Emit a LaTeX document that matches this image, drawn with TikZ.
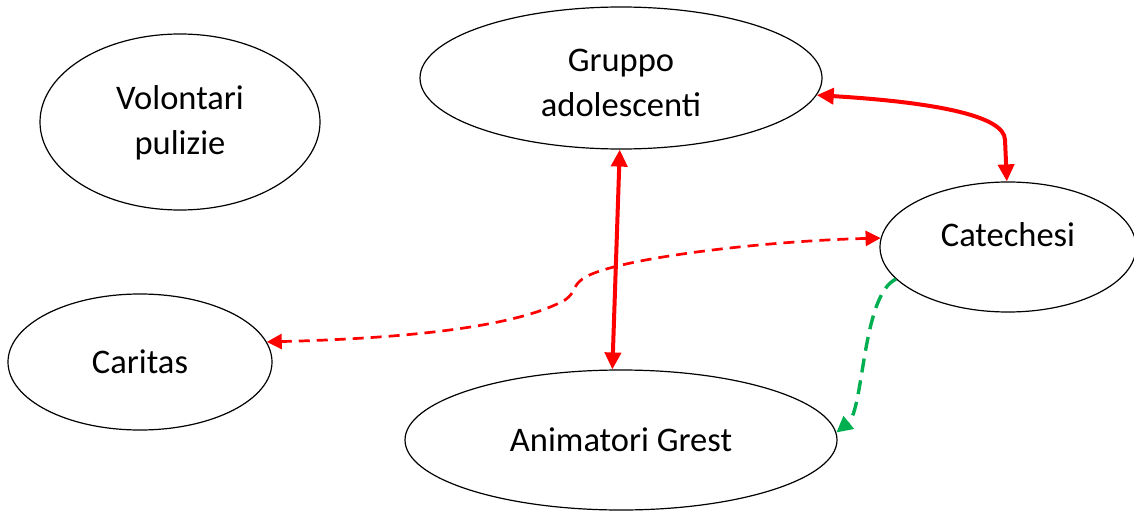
\documentclass[tikz,border=0pt]{standalone}
\usepackage{fontspec}
\setmainfont{Carlito}
\usetikzlibrary{shapes.geometric,arrows.meta}
\definecolor{arrred}{HTML}{FF0000}
\definecolor{arrgreen}{HTML}{00B050}
\begin{document}
\begin{tikzpicture}[x=1pt,y=-1pt,
  bubble/.style={ellipse,draw=black,line width=1.2pt,inner sep=0pt,align=center,
    font=\fontsize{34.5}{44.5}\selectfont},
  solidlink/.style={draw=arrred,line width=4pt,{Triangle[length=17pt,width=16pt]}-{Triangle[length=17pt,width=16pt]}},
  redlink/.style={draw=arrred,line width=2.7pt,dash pattern=on 11pt off 7pt,{Triangle[length=15pt,width=15pt]}-{Triangle[length=15pt,width=15pt]}},
  greenlink/.style={draw=arrgreen,line width=3.4pt,dash pattern=on 14pt off 8pt,-{Triangle[length=16pt,width=16pt]}}
]
\useasboundingbox (0,0) rectangle (1134,511);
\node[bubble,minimum width=280pt,minimum height=176pt,text height=64pt,text depth=0pt] (vol) at (180,122) {Volontari\\pulizie};
\node[bubble,minimum width=402pt,minimum height=142pt,text height=76pt,text depth=0pt] (gru) at (621,78) {Gruppo\\adolescenti};
\node[bubble,minimum width=256pt,minimum height=130pt,text depth=24pt] (cat) at (1008,247) {Catechesi};
\node[bubble,minimum width=264pt,minimum height=136pt] (car) at (140,362) {Caritas};
\node[bubble,minimum width=432pt,minimum height=140pt] (ani) at (621,440) {Animatori Grest};

\draw[solidlink] (gru.-5) .. controls (930,102) and (1005,115) .. (1005,140) -- (cat.91);
\draw[solidlink] (gru.269) -- (ani.97);
\draw[redlink] (cat.176) .. controls (760,241) and (600,260) .. (580,281)
  .. controls (573,287) and (575,293) .. (565,300)
  .. controls (520,325) and (420,338) .. (car.9);
\draw[greenlink] (cat.196) .. controls (862,295) and (864,410) .. (ani.2);
\end{tikzpicture}
\end{document}
